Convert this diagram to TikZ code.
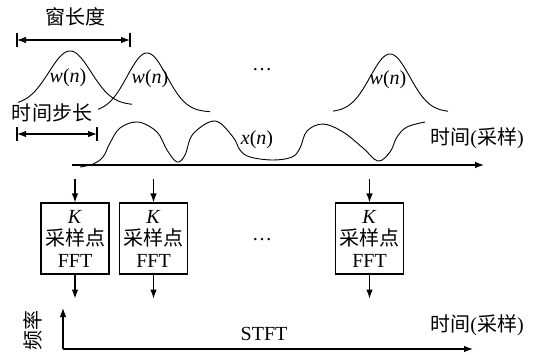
\documentclass[tikz,border=0pt]{standalone}
\usepackage{fontspec}
\setmainfont{Liberation Serif}
\newfontfamily\cjk{Noto Sans CJK SC}
\usetikzlibrary{arrows.meta}
\newcommand{\wn}{\textit{w}(\textit{n})}
\newcommand{\xn}{\textit{x}(\textit{n})}
\begin{document}
\begin{tikzpicture}[x=1pt,y=-1pt,
  every node/.style={font=\fontsize{20}{22}\selectfont, inner sep=0pt},
  ln/.style={line width=1.1pt},
  cv/.style={line width=0.9pt},
  arr/.style={line width=1.1pt,-{Latex[length=9pt,width=6.5pt]}},
  biarr/.style={line width=1.1pt,{Latex[length=9pt,width=6.5pt]}-{Latex[length=9pt,width=6.5pt]}},
  fftbox/.style={draw,line width=1.1pt,minimum width=68pt,minimum height=71pt,align=center}]
\path[use as bounding box] (0,0) rectangle (540,354);

% window length
\node (wlab) at (75,17) {\cjk 窗长度};
\coordinate (wl1) at (17,40);
\coordinate (wl2) at (130,40);
\draw[biarr] (wl1) -- (wl2);
\draw[ln] ([yshift=-7pt]wl1) -- ([yshift=7pt]wl1);
\draw[ln] ([yshift=-7pt]wl2) -- ([yshift=7pt]wl2);

% windows
\draw[cv] plot[domain=18:132,samples=80] (\x,{105-54*exp(-((\x-70)/30)^2)});
\draw[cv] plot[domain=98:210,samples=80] (\x,{112-59*exp(-((\x-147)/28)^2)});
\draw[cv] plot[domain=333:448,samples=80] (\x,{112-58*exp(-((\x-390)/28)^2)});
\node (w1) at (68,78) {\wn};
\node (w2) at (150,79) {\wn};
\node (w3) at (388,80) {\wn};
\node (dots1) at (262,70) {…};

% time step
\node (tslab) at (52,113) {\cjk 时间步长};
\coordinate (ts1) at (17,134);
\coordinate (ts2) at (97,134);
\draw[biarr] (ts1) -- (ts2);
\draw[ln] ([yshift=-7pt]ts1) -- ([yshift=7pt]ts1);
\draw[ln] ([yshift=-7pt]ts2) -- ([yshift=7pt]ts2);

% signal
\draw[cv] plot[smooth,tension=0.6] coordinates {(80,167) (93,164) (103,157) (110,143) (120,128) (138,122) (157,132) (167,150) (177,162) (185,155) (193,134) (215,121) (233,137) (240,150) (250,157) (273,160) (292,157) (300,148) (307,131) (323,124) (343,132) (363,148) (378,161) (390,152) (397,137) (407,127) (425,122)};
\node (xn) at (257,140) {\xn};
\node (tlab1) at (477,138) {\cjk 时间\rmfamily(\cjk 采样\rmfamily)};

% time axis
\coordinate (ax0) at (72,165);
\coordinate (ax1) at (484,165);
\draw[arr] (ax0) -- (ax1);

% FFT boxes
\node[fftbox] (b1) at (75,238.5) {\textit{K}\\{\cjk 采样点}\\FFT};
\node[fftbox] (b2) at (153.5,238.5) {\textit{K}\\{\cjk 采样点}\\FFT};
\node[fftbox] (b3) at (369.5,238.5) {\textit{K}\\{\cjk 采样点}\\FFT};
\node (dots2) at (262,240) {…};

\foreach \b in {b1,b2,b3}{
  \coordinate (\b in) at ([yshift=23pt]\b.north);
  \coordinate (\b out) at ([yshift=-24pt]\b.south);
  \draw[arr] (\b in) -- (\b.north);
  \draw[arr] (\b.south) -- (\b out);
}

% STFT axes
\coordinate (o) at (63,349);
\coordinate (fy) at (63,308);
\coordinate (fx) at (473,349);
\draw[arr] (o) -- (fy);
\draw[arr] (o) -- (fx);
\node[rotate=90] (flab) at (33,330) {\cjk 频率};
\node (stft) at (264,334) {STFT};
\node (tlab2) at (477,325) {\cjk 时间\rmfamily(\cjk 采样\rmfamily)};
\end{tikzpicture}
\end{document}
